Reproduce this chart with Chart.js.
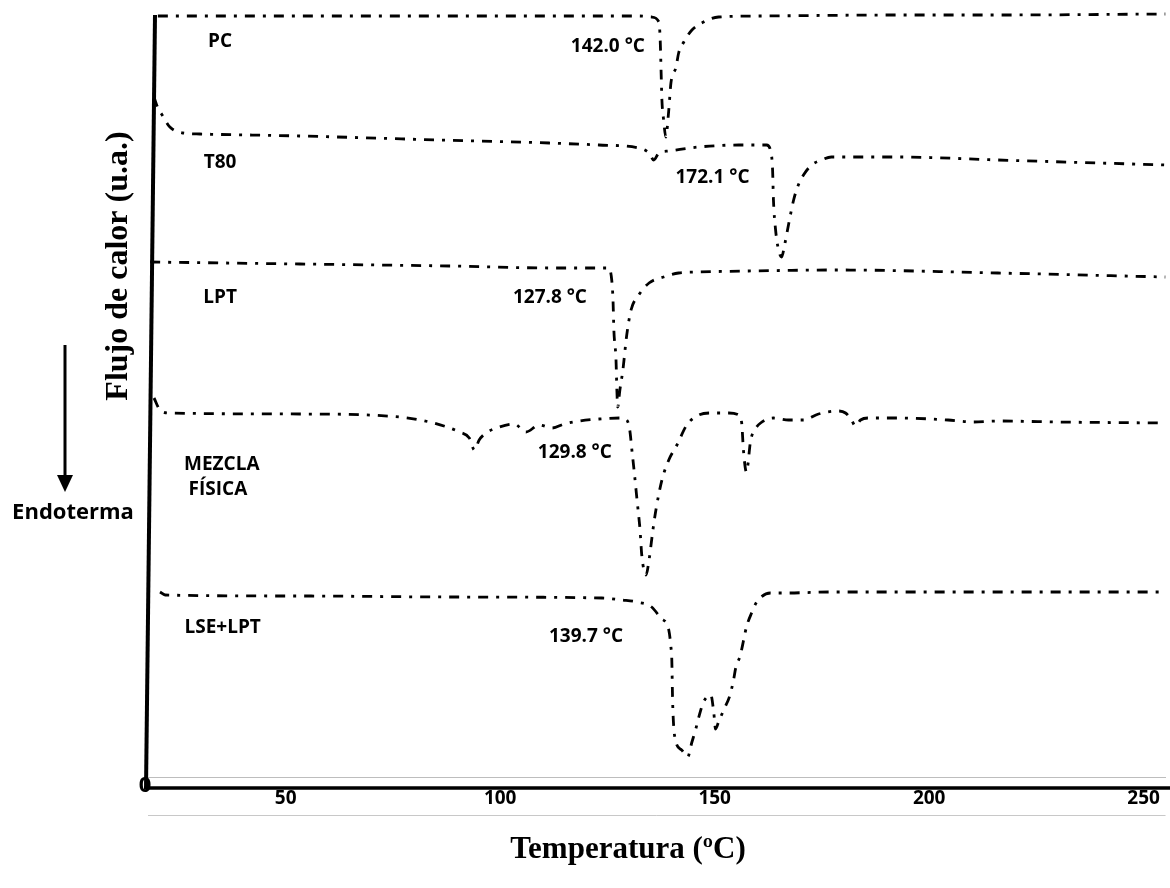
<!DOCTYPE html>
<html>
<head>
<meta charset="utf-8">
<script src="https://cdn.jsdelivr.net/npm/chart.js@4.4.0/dist/chart.umd.min.js"></script>
<style>
  html, body { margin: 0; padding: 0; background: #fff; }
</style>
</head>
<body>
<canvas id="dsc-graph" width="1170" height="888"></canvas>
<script>
/**
 * DSC thermograms
 * x: temperature on the figure's tick scale, y: heat flow (u.a.)
 */
const tickValues = [50, 100, 150, 200, 250];
const tickLabels = ['50', '100', '150', '200', '250'];

const pcTemp = [20.2, 53.3, 99.8, 132.3, 135.3, 137.0, 137.3, 137.5, 137.7, 138.1, 138.6, 139.3, 139.8, 141.0, 141.6, 142.8, 144.7, 147.4, 150.9, 160.2, 192.8, 216.0, 255.1];
const pcFlow = [76.1, 76.1, 76.1, 76.1, 76.0, 75.5, 73.7, 70.7, 67.7, 65.7, 64.0, 66.7, 69.4, 71.0, 72.4, 73.5, 74.7, 75.5, 76.0, 76.1, 76.2, 76.2, 76.3];

const t80Temp = [19.3, 20.2, 21.2, 23.0, 26.0, 30.0, 53.3, 85.8, 111.4, 123.0, 132.3, 134.7, 135.8, 137.0, 139.3, 146.3, 155.6, 162.1, 163.0, 163.5, 163.7, 164.2, 164.9, 165.6, 166.3, 167.2, 168.4, 169.5, 170.7, 172.6, 174.9, 177.2, 192.8, 216.0, 255.1];
const t80Flow = [68.0, 66.9, 66.2, 65.0, 64.4, 64.3, 64.1, 63.7, 63.4, 63.2, 62.9, 62.4, 61.7, 62.4, 62.6, 63.0, 63.2, 63.2, 62.7, 60.7, 57.7, 54.7, 52.7, 52.0, 53.2, 55.2, 57.7, 59.2, 60.2, 61.2, 61.7, 62.0, 62.0, 61.7, 61.2];

const lptTemp = [18.4, 53.3, 88.1, 112.6, 125.3, 126.0, 126.3, 126.5, 127.0, 127.2, 127.4, 127.9, 128.6, 129.5, 130.5, 132.3, 134.7, 138.1, 141.6, 146.3, 157.9, 178.8, 216.0, 255.1];
const lptFlow = [51.5, 51.3, 51.1, 50.9, 50.9, 49.7, 47.7, 44.7, 41.7, 38.7, 37.0, 38.7, 40.7, 44.2, 46.7, 48.2, 49.4, 50.0, 50.4, 50.5, 50.6, 50.7, 50.4, 50.0];

const mixTemp = [19.3, 20.7, 23.0, 53.3, 76.5, 83.5, 90.5, 92.8, 94.0, 95.1, 96.7, 99.8, 103.3, 106.0, 109.1, 112.1, 114.9, 118.4, 123.0, 128.1, 129.5, 130.2, 130.7, 131.2, 131.9, 132.6, 133.0, 134.0, 134.7, 135.6, 136.3, 137.7, 139.3, 141.2, 143.5, 146.3, 149.3, 153.3, 155.6, 156.3, 156.7, 157.4, 158.4, 159.3, 160.7, 163.7, 167.2, 170.7, 174.2, 178.8, 180.5, 181.9, 182.8, 184.0, 185.8, 192.8, 204.4, 210.2, 216.0, 230.0, 255.1];
const mixFlow = [37.9, 36.7, 36.4, 36.3, 36.0, 35.5, 34.5, 33.9, 32.7, 33.7, 34.4, 35.0, 35.3, 34.5, 35.2, 34.9, 35.3, 35.6, 35.8, 35.9, 35.7, 34.7, 32.7, 30.7, 27.7, 24.7, 22.2, 20.2, 21.7, 24.7, 26.7, 29.7, 31.7, 33.2, 35.2, 36.2, 36.4, 36.4, 36.2, 35.4, 32.7, 30.5, 33.7, 34.7, 35.4, 35.9, 35.7, 35.7, 36.3, 36.6, 36.4, 35.7, 35.1, 35.7, 35.9, 35.9, 35.7, 35.5, 35.6, 35.5, 35.4];

const lseTemp = [20.7, 21.9, 53.3, 88.1, 123.7, 128.4, 131.9, 135.3, 137.4, 139.3, 139.8, 140.0, 140.2, 140.7, 142.3, 143.7, 144.7, 145.6, 146.3, 147.4, 149.1, 149.8, 150.2, 150.9, 152.1, 153.5, 154.4, 154.9, 156.0, 156.7, 157.4, 158.6, 159.8, 163.0, 166.5, 177.2, 216.0, 255.1];
const lseFlow = [18.5, 18.2, 18.1, 18.0, 17.9, 17.7, 17.5, 17.0, 15.9, 14.7, 13.0, 11.8, 7.5, 4.0, 2.7, 2.0, 3.5, 4.8, 6.0, 7.5, 8.2, 6.4, 4.8, 5.5, 6.7, 8.1, 9.7, 10.9, 12.2, 13.6, 15.0, 16.4, 17.5, 18.4, 18.4, 18.5, 18.5, 18.5];

// text placed next to the curves, in axis units
const curveLabels = [
    {text: 'PC', x: 34.7, y: 73.5},
    {text: 'T80', x: 34.7, y: 61.4},
    {text: 'LPT', x: 34.7, y: 47.9},
    {text: 'MEZCLA', x: 35.1, y: 31.2},
    {text: 'FÍSICA', x: 34.2, y: 28.7},
    {text: 'LSE+LPT', x: 35.3, y: 14.9},
    {text: '142.0 °C', x: 125.1, y: 73.0},
    {text: '172.1 °C', x: 149.5, y: 59.9},
    {text: '127.8 °C', x: 111.6, y: 47.9},
    {text: '129.8 °C', x: 117.4, y: 32.4},
    {text: '139.7 °C', x: 120.0, y: 14.0}
];

const toPoints = (temps, flows) => temps.map((t, i) => ({x: t, y: flows[i]}));

const makeCurve = (label, temps, flows) => ({
    label: label,
    data: toPoints(temps, flows),
    borderColor: '#000',
    backgroundColor: '#000',
    borderWidth: 2.8,
    borderDash: [10, 8, 3, 8],
    pointRadius: 0,
    fill: false,
    cubicInterpolationMode: 'monotone'
});

let dscChartData = {
    datasets: [
        makeCurve('PC', pcTemp, pcFlow),
        makeCurve('T80', t80Temp, t80Flow),
        makeCurve('LPT', lptTemp, lptFlow),
        makeCurve('MEZCLA FÍSICA', mixTemp, mixFlow),
        makeCurve('LSE+LPT', lseTemp, lseFlow)
    ]
};

const labelFont = 'bold 19px "Open Sans"';

//frame, labels, axis titles and endotherm arrow
const decorPlugin = {
    id: 'decor',
    afterDraw(chart) {
        const {ctx, chartArea, scales} = chart;
        const xs = scales.x, ys = scales.y;
        ctx.save();

        // thick black frame
        ctx.strokeStyle = '#000';
        ctx.lineWidth = 4;
        ctx.beginPath();
        ctx.moveTo(chartArea.left + 7, chartArea.top + 8);
        ctx.lineTo(chartArea.left - 2, chartArea.bottom + 12);
        ctx.stroke();
        ctx.lineWidth = 3.5;
        ctx.beginPath();
        ctx.moveTo(chartArea.left - 4, chartArea.bottom + 11);
        ctx.lineTo(chart.width, chartArea.bottom + 11);
        ctx.stroke();

        // light line under tick labels
        ctx.strokeStyle = '#c8c8c8';
        ctx.lineWidth = 1;
        ctx.beginPath();
        ctx.moveTo(chartArea.left, chartArea.bottom + 38.5);
        ctx.lineTo(chartArea.right, chartArea.bottom + 38.5);
        ctx.stroke();

        // origin label
        ctx.fillStyle = '#000';
        ctx.font = 'bold 22px "Open Sans"';
        ctx.textAlign = 'center';
        ctx.textBaseline = 'middle';
        ctx.fillText('0', chartArea.left - 3, chartArea.bottom + 9);

        // curve names and peak temperatures
        ctx.font = labelFont;
        curveLabels.forEach(item => {
            ctx.fillText(item.text, xs.getPixelForValue(item.x), ys.getPixelForValue(item.y));
        });

        // endotherm arrow
        ctx.lineWidth = 3;
        ctx.strokeStyle = '#000';
        ctx.beginPath();
        ctx.moveTo(65, 345);
        ctx.lineTo(65, 478);
        ctx.stroke();
        ctx.beginPath();
        ctx.moveTo(57, 475);
        ctx.lineTo(73, 475);
        ctx.lineTo(65, 492);
        ctx.closePath();
        ctx.fill();
        ctx.font = 'bold 22px "Open Sans"';
        ctx.fillText('Endoterma', 73, 513);

        // x axis title
        ctx.font = 'bold 31px "Liberation Serif"';
        ctx.fillText('Temperatura (ºC)', 628, 850);

        // y axis title
        ctx.translate(119, 266);
        ctx.rotate(-Math.PI / 2);
        ctx.font = 'bold 32px "Liberation Serif"';
        ctx.fillText('Flujo de calor (u.a.)', 0, 0);
        ctx.restore();
    }
};

let dscConfig = {
    type: 'line',
    data: dscChartData,
    options: {
        responsive: false,
        animation: false,
        events: [],
        layout: {
            padding: {left: 148, right: 2, top: 7, bottom: 0}
        },
        plugins: {
            legend: {display: false},
            tooltip: {enabled: false}
        },
        scales: {
            x: {
                type: 'linear',
                min: 17.9,
                max: 255.1,
                afterBuildTicks: (scale) => {
                    scale.ticks = tickValues.map(v => ({value: v}));
                },
                afterFit: (scale) => {
                    scale.height = 111;
                },
                grid: {display: false, drawTicks: false},
                border: {display: true, color: '#bdbdbd', width: 1},
                ticks: {
                    color: '#000',
                    padding: 10,
                    maxRotation: 0,
                    autoSkip: false,
                    font: {family: 'Open Sans', weight: 'bold', size: 19},
                    callback: (value) => tickLabels[tickValues.indexOf(value)]
                },
                title: {display: false}
            },
            y: {
                display: false,
                min: 0,
                max: 77
            }
        }
    },
    plugins: [decorPlugin]
};

const dscChart = new Chart(
    document.getElementById('dsc-graph'),
    dscConfig
);
</script>
</body>
</html>
